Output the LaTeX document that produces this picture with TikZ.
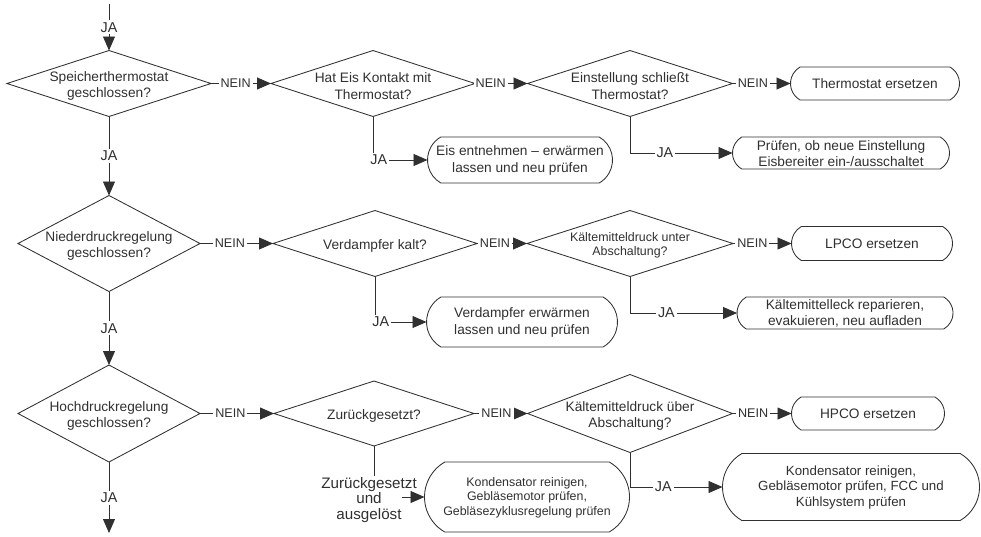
\documentclass[tikz,border=0pt]{standalone}
\usepackage{fontspec}
\setmainfont{Liberation Sans}
\usetikzlibrary{shapes.geometric,shapes.misc,arrows.meta}
\definecolor{ink}{HTML}{303030}
\newcommand{\fsMain}{\fontsize{13.7}{16.5}\selectfont}
\newcommand{\fsSmall}{\fontsize{12.4}{14.5}\selectfont}
\newcommand{\fsWide}{\fontsize{13.3}{15.2}\selectfont}
\newcommand{\fsJa}{\fontsize{14.3}{15.5}\selectfont}
\newcommand{\fsNein}{\fontsize{12.6}{14}\selectfont}

\begin{document}
\begin{tikzpicture}[x=1pt,y=-1pt,
  decision/.style={diamond, draw=ink, line width=0.85pt, inner sep=0pt, outer sep=0pt},
  action/.style={rounded rectangle, rounded rectangle arc length=120, draw=ink,
                 line width=0.85pt, inner sep=0pt, outer sep=0pt},
  txt/.style={align=center, text=ink, font=\fsMain, inner sep=0pt, yshift=-2.5pt},
  txtsmall/.style={align=center, text=ink, font=\fsSmall, inner sep=0pt, yshift=-2pt},
  boxtxt/.style={align=center, text=ink, font=\fsMain, inner sep=0pt, yshift=-0.5pt},
  boxsmall/.style={align=center, text=ink, font=\fsSmall, inner sep=0pt, yshift=-0.5pt},
  boxwide/.style={align=center, text=ink, font=\fsWide, inner sep=0pt, yshift=-0.5pt},
  flow/.style={draw=ink, line width=0.85pt, -{Triangle[length=14pt,width=12pt]}},
  plain/.style={draw=ink, line width=0.85pt},
  ja/.style={fill=white, text=ink, font=\fsJa, inner sep=2pt},
  nein/.style={fill=white, text=ink, font=\fsNein, inner sep=2pt},
]
\useasboundingbox (0,0) rectangle (981,536);

% ---------- decisions ----------
\node[decision, minimum width=204, minimum height=66,
  label={[txt]center:{Speicherthermostat\\geschlossen?}}] (d1) at (109,83.5) {};
\node[decision, minimum width=204, minimum height=66,
  label={[txt]center:{Hat Eis Kontakt mit\\Thermostat?}}] (d2) at (373,83.5) {};
\node[decision, minimum width=205, minimum height=66,
  label={[txt]center:{Einstellung schließt\\Thermostat?}}] (d3) at (630,83.5) {};

\node[decision, minimum width=182, minimum height=96,
  label={[txt]center:{Niederdruckregelung\\geschlossen?}}] (d4) at (109,243.5) {};
\node[decision, minimum width=204, minimum height=66,
  label={[txt]center:{Verdampfer kalt?}}] (d5) at (375,243.5) {};
\node[decision, minimum width=206, minimum height=66,
  label={[txtsmall]center:{Kältemitteldruck unter\\Abschaltung?}}] (d6) at (630,243.5) {};

\node[decision, minimum width=182, minimum height=97,
  label={[txt]center:{Hochdruckregelung\\geschlossen?}}] (d7) at (109,413.5) {};
\node[decision, minimum width=200, minimum height=65,
  label={[txt]center:{Zurückgesetzt?}}] (d8) at (374,413.5) {};
\node[decision, minimum width=205, minimum height=78,
  label={[txt]center:{Kältemitteldruck über\\Abschaltung?}}] (d9) at (630,413.5) {};

% ---------- actions ----------
\node[action, minimum width=169, minimum height=33,
  label={[boxtxt]center:{Thermostat ersetzen}}] (b1) at (875,83.5) {};
\node[action, minimum width=217, minimum height=32,
  label={[boxtxt]center:{Prüfen, ob neue Einstellung\\Eisbereiter ein-/ausschaltet}}] (b2) at (841,153) {};
\node[action, minimum width=185, minimum height=46,
  label={[boxtxt]center:{Eis entnehmen – erwärmen\\lassen und neu prüfen}}] (b3) at (520,160) {};

\node[action, minimum width=161, minimum height=34,
  label={[boxtxt]center:{LPCO ersetzen}}] (b4) at (872,243.5) {};
\node[action, minimum width=216, minimum height=32,
  label={[boxtxt]center:{Kältemittelleck reparieren,\\evakuieren, neu aufladen}}] (b5) at (845,313) {};
\node[action, minimum width=191, minimum height=50,
  label={[boxtxt]center:{Verdampfer erwärmen\\lassen und neu prüfen}}] (b6) at (522,322) {};

\node[action, minimum width=153, minimum height=33,
  label={[boxtxt]center:{HPCO ersetzen}}] (b7) at (868,413.5) {};
\node[action, minimum width=205, minimum height=70,
  label={[boxsmall]center:{Kondensator reinigen,\\Gebläsemotor prüfen,\\Gebläsezyklusregelung prüfen}}] (b8) at (527,497) {};
\node[action, minimum width=257, minimum height=67,
  label={[boxwide]center:{Kondensator reinigen,\\Gebläsemotor prüfen, FCC und\\Kühlsystem prüfen}}] (b9) at (851,487) {};

% ---------- main column (JA) ----------
\coordinate (in) at (109,4);
\coordinate (out) at (109,533);
\draw[flow] (in) -- node[ja] {JA} (d1.north);
\draw[flow] (d1.south) -- node[ja] {JA} (d4.north);
\draw[flow] (d4.south) -- node[ja] {JA} (d7.north);
\draw[flow] (d7.south) -- node[ja] {JA} (out);

% ---------- NEIN branches ----------
\draw[flow] (d1.east) -- node[nein, pos=0.41] {NEIN} (d2.west);
\draw[flow] (d2.east) -- node[nein, pos=0.30] {NEIN} (d3.west);
\draw[flow] (d3.east) -- node[nein, pos=0.35] {NEIN} (b1.west);

\draw[flow] (d4.east) -- node[nein, pos=0.41] {NEIN} (d5.west);
\draw[flow] (d5.east) -- node[nein, pos=0.36] {NEIN} (d6.west);
\draw[flow] (d6.east) -- node[nein, pos=0.33] {NEIN} (b4.west);

\draw[flow] (d7.east) -- node[nein, pos=0.41] {NEIN} (d8.west);
\draw[flow] (d8.east) -- node[nein, pos=0.42] {NEIN} (d9.west);
\draw[flow] (d9.east) -- node[nein, pos=0.35] {NEIN} (b7.west);

% ---------- JA branches to actions ----------
\draw[flow] (d2.south) |- node[ja, pos=0.5, anchor=west, xshift=-5pt] {JA} (b3.west);
\draw[flow] (d3.south) |- node[ja, pos=0.67] {JA} (b2.west);
\draw[flow] (d5.south) |- node[ja, pos=0.5, anchor=west, xshift=-5pt] {JA} (b6.west);
\draw[flow] (d6.south) |- node[ja, pos=0.67] {JA} (b5.west);
\draw[flow] (d9.south) |- node[ja, pos=0.68] {JA} (b9.west);

% reset-and-tripped branch
\node[text=ink, font=\fontsize{15.2}{15.8}\selectfont, align=center, inner sep=1pt]
  (rs) at (369,500) {Zurückgesetzt\\und\\ausgelöst};
\draw[plain] (d8.south) -- (d8.south |- rs.north);
\coordinate (rsout) at (402,497);
\draw[flow] (rsout) -- (b8.west);

\end{tikzpicture}
\end{document}
